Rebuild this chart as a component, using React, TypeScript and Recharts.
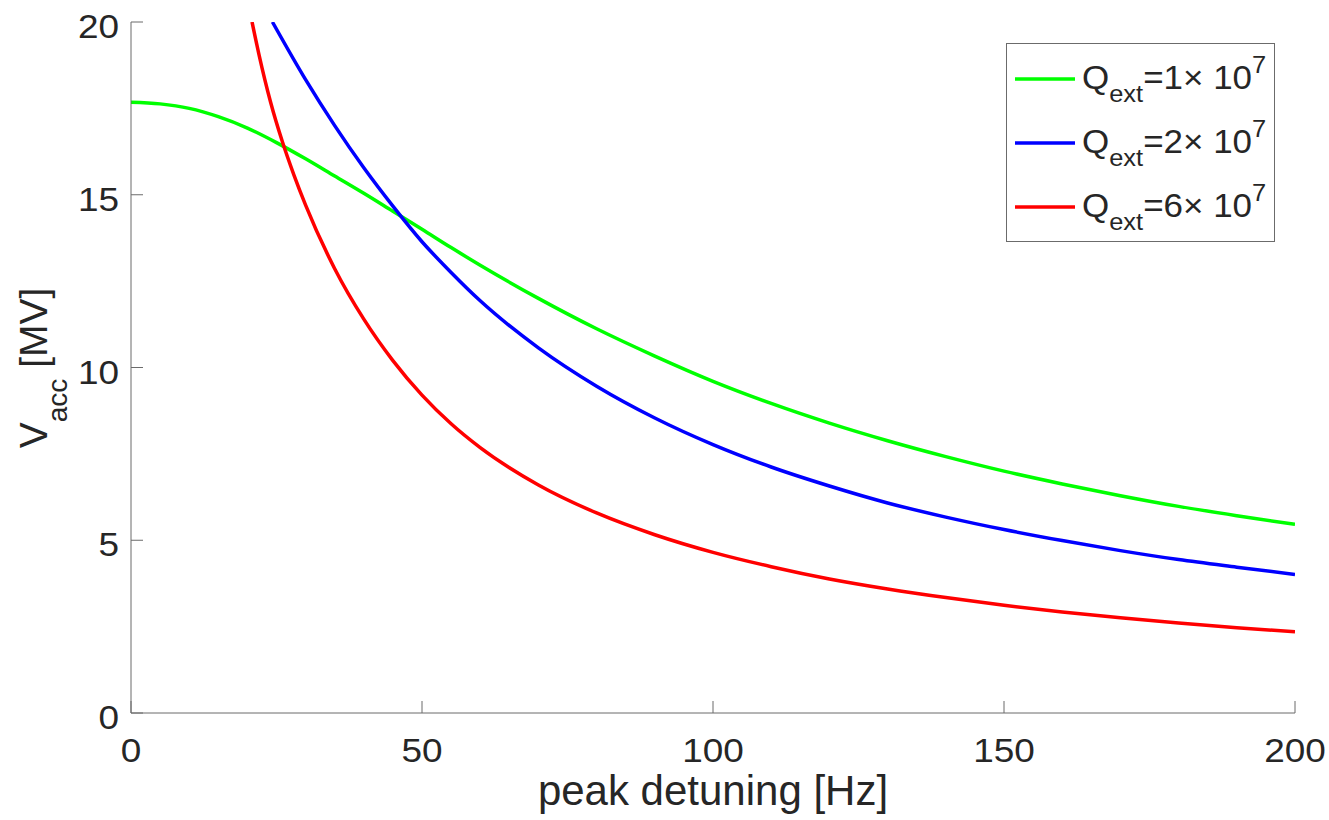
import React from 'react';
import { LineChart, Line, XAxis, YAxis, Legend } from 'recharts';

// peak detuning [Hz] and V_acc [MV]
const greenHz = [0, 5, 10, 15, 20, 25, 30, 35, 40, 45, 50, 55, 60, 70, 80, 90, 100, 110, 120, 130, 140, 150, 160, 170, 180, 190, 200];
const greenV = [17.68, 17.63, 17.5, 17.26, 16.93, 16.51, 16.04, 15.54, 15.04, 14.52, 14.0, 13.47, 12.96, 12.0, 11.12, 10.33, 9.6, 8.96, 8.39, 7.88, 7.42, 7.0, 6.63, 6.29, 5.98, 5.71, 5.46];

const blueHz = [24.3, 30, 35, 40, 45, 50, 55, 60, 70, 80, 90, 100, 110, 120, 130, 140, 150, 160, 170, 180, 190, 200];
const blueV = [20, 18.33, 17.0, 15.78, 14.67, 13.64, 12.75, 11.93, 10.57, 9.46, 8.54, 7.77, 7.12, 6.57, 6.08, 5.67, 5.31, 4.99, 4.7, 4.44, 4.22, 4.01];

const redHz = [20.8, 22, 24, 26, 28, 30, 35, 40, 45, 50, 55, 60, 70, 80, 90, 100, 110, 120, 130, 140, 150, 160, 170, 180, 190, 200];
const redV = [20, 19.05, 17.67, 16.54, 15.57, 14.7, 12.86, 11.4, 10.2, 9.2, 8.37, 7.68, 6.6, 5.79, 5.16, 4.65, 4.235, 3.88, 3.59, 3.34, 3.117, 2.925, 2.755, 2.606, 2.47, 2.35];

const xTicks = [0, 50, 100, 150, 200];
const yTicks = [0, 5, 10, 15, 20];

const legendMantissa = ['1', '2', '6'];
const seriesColors = ['#00ff00', '#0000ff', '#ff0000'];

const toPoints = (hz: number[], v: number[]) => hz.map((f, i) => ({ f, v: v[i] }));
const greenData = toPoints(greenHz, greenV);
const blueData = toPoints(blueHz, blueV);
const redData = toPoints(redHz, redV);

const FONT = '"Liberation Sans", Arial, Helvetica, sans-serif';
const TEXT = '#262626';
const AXIS = '#6b6b6b';

const XTick = (props: any) => {
  const { x, y, payload } = props;
  return (
    <text
      transform={`translate(${x},${y + 49}) scale(1.12,1)`}
      textAnchor="middle"
      fontSize={33}
      fontFamily={FONT}
      fill={TEXT}
    >
      {payload.value}
    </text>
  );
};

const YTick = (props: any) => {
  const { x, y, payload } = props;
  return (
    <text
      transform={`translate(${x - 12},${y + 16}) scale(1.12,1)`}
      textAnchor="end"
      fontSize={33}
      fontFamily={FONT}
      fill={TEXT}
    >
      {payload.value}
    </text>
  );
};

const XLabel = () => (
  <text x={713} y={805} textAnchor="middle" fontSize={42} fontFamily={FONT} fill={TEXT}>
    peak detuning [Hz]
  </text>
);

const YLabel = () => (
  <text transform="translate(47,368) rotate(-90)" textAnchor="middle" fontSize={39} fontFamily={FONT} fill={TEXT}>
    V
    <tspan fontSize={28} dy={20}>acc</tspan>
    <tspan fontSize={39} dy={-20}> [MV]</tspan>
  </text>
);

const LegendBox = () => {
  const rows = [36, 100, 164];
  return (
    <svg width={270} height={200} style={{ display: 'block' }}>
      <rect x={0.5} y={0.5} width={268} height={198} fill="#ffffff" stroke={AXIS} strokeWidth={1} />
      {rows.map((cy, i) => (
        <g key={i}>
          <line x1={9} x2={69} y1={cy} y2={cy} stroke={seriesColors[i]} strokeWidth={3.5} />
          <text transform={`translate(76,${cy + 10}) scale(1.06,1)`} fontSize={33} fontFamily={FONT} fill={TEXT}>
            Q
            <tspan fontSize={24} dy={13}>ext</tspan>
            <tspan fontSize={33} dy={-13}>{`=${legendMantissa[i]}\u00d7 10`}</tspan>
            <tspan fontSize={24} dy={-16}>7</tspan>
          </text>
        </g>
      ))}
    </svg>
  );
};

export default function App() {
  return (
    <div style={{ position: 'absolute', left: 0, top: 0, width: 1329, height: 820, background: '#ffffff' }}>
      <LineChart width={1329} height={820} margin={{ top: 22, right: 34, bottom: 0, left: 0 }}>
        <XAxis
          xAxisId="main"
          dataKey="f"
          type="number"
          domain={[0, 200]}
          ticks={xTicks}
          interval={0}
          height={107}
          allowDataOverflow
          stroke={AXIS}
          tickLine={{ stroke: AXIS }}
          tickSize={-12}
          tickMargin={12}
          tick={<XTick />}
          label={<XLabel />}
        />
        <XAxis
          xAxisId="top"
          orientation="top"
          dataKey="f"
          type="number"
          domain={[0, 200]}
          ticks={xTicks}
          interval={0}
          height={0}
          allowDataOverflow
          stroke={AXIS}
          tickLine={{ stroke: AXIS }}
          tickSize={-12}
          tick={false}
        />
        <YAxis
          yAxisId="main"
          type="number"
          domain={[0, 20]}
          ticks={yTicks}
          interval={0}
          width={131}
          allowDataOverflow
          stroke={AXIS}
          tickLine={{ stroke: AXIS }}
          tickSize={-12}
          tickMargin={12}
          tick={<YTick />}
          label={<YLabel />}
        />
        <YAxis
          yAxisId="right"
          orientation="right"
          type="number"
          domain={[0, 20]}
          ticks={yTicks}
          interval={0}
          width={0}
          allowDataOverflow
          stroke={AXIS}
          tickLine={{ stroke: AXIS }}
          tickSize={-12}
          tick={false}
        />
        <Line xAxisId="main" yAxisId="main" data={greenData} dataKey="v" type="monotone" stroke={seriesColors[0]} strokeWidth={3.5} dot={false} isAnimationActive={false} />
        <Line xAxisId="main" yAxisId="main" data={blueData} dataKey="v" type="monotone" stroke={seriesColors[1]} strokeWidth={3.5} dot={false} isAnimationActive={false} />
        <Line xAxisId="main" yAxisId="main" data={redData} dataKey="v" type="monotone" stroke={seriesColors[2]} strokeWidth={3.5} dot={false} isAnimationActive={false} />
        <Legend
          layout="vertical"
          align="center"
          verticalAlign="middle"
          wrapperStyle={{ left: 1006, top: 43, width: 270, height: 200 }}
          content={() => <LegendBox />}
        />
      </LineChart>
    </div>
  );
}
